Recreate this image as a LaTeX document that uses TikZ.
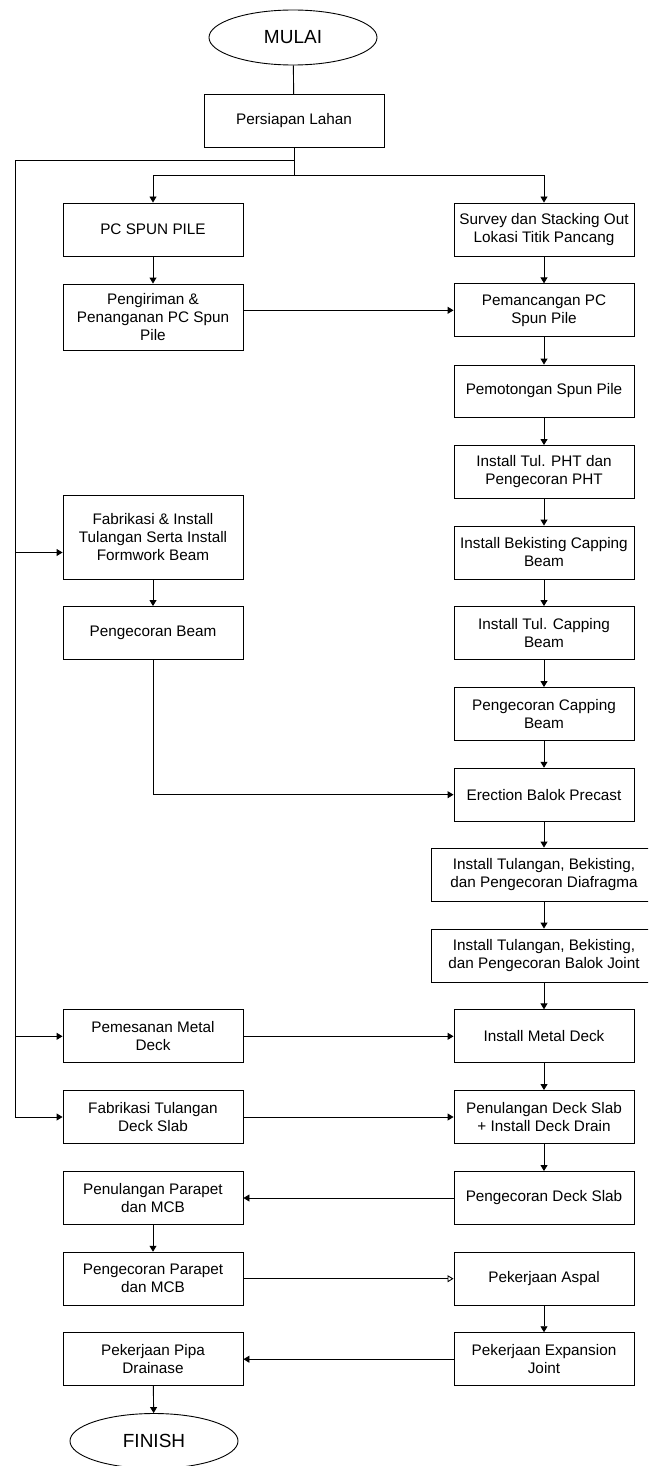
\documentclass[tikz,border=0pt]{standalone}
\usepackage{fontspec}
\setmainfont{Liberation Sans}
\usetikzlibrary{arrows.meta,shapes.geometric}

\tikzset{
    box/.style={draw, rectangle, minimum width=180pt, minimum height=53pt, inner sep=2pt, align=center, font=\fontsize{15.3}{18}\selectfont},
    oval/.style={draw, ellipse, minimum width=168pt, minimum height=55pt, inner sep=0pt, font=\fontsize{19}{22}\selectfont},
    arr/.style={-{Triangle[length=6pt, width=7pt]}},
    arropen/.style={-{Triangle[open, length=6pt, width=7pt]}}
}

\begin{document}
\begin{tikzpicture}[x=1pt, y=-1pt, line width=0.9pt]
    \path[use as bounding box, clip] (0, 0) rectangle (648, 1466);
    \node[oval] (mulai) at(293, 37.5) {MULAI};
    \node[box] (lahan) at(294, 120.8) {Persiapan Lahan};
    \node[box] (spun) at(153, 229.5) {PC SPUN PILE};
    \node[box] (survey) at(544, 229.5) {Survey dan Stacking Out\\Lokasi Titik Pancang};
    \node[box, minimum height=66pt] (kirim) at(153, 317) {Pengiriman \&\\Penanganan PC Spun\\Pile};
    \node[box] (pancang) at(544, 310.3) {Pemancangan PC\\Spun Pile};
    \node[box, minimum height=52pt] (potong) at(544, 391) {Pemotongan Spun Pile};
    \node[box] (pht) at(544, 472) {Install Tul. PHT dan\\Pengecoran PHT};
    \node[box, minimum height=84pt] (fabbeam) at(153, 537) {Fabrikasi \& Install\\Tulangan Serta Install\\Formwork Beam};
    \node[box] (bekisting) at(544, 552.5) {Install Bekisting Capping\\Beam};
    \node[box] (corbeam) at(153, 633) {Pengecoran Beam};
    \node[box] (tulcap) at(544, 633) {Install Tul. Capping\\Beam};
    \node[box] (corcap) at(544, 714) {Pengecoran Capping\\Beam};
    \node[box] (erection) at(544, 794.7) {Erection Balok Precast};
    \node[box, minimum width=226pt] (diafragma) at(544, 874.5) {Install Tulangan, Bekisting,\\dan Pengecoran Diafragma};
    \node[box, minimum width=226pt] (joint) at(544, 955.5) {Install Tulangan, Bekisting,\\dan Pengecoran Balok Joint};
    \node[box] (pesan) at(153, 1036.3) {Pemesanan Metal\\Deck};
    \node[box] (metaldeck) at(544, 1036.3) {Install Metal Deck};
    \node[box] (decktul) at(153, 1117) {Fabrikasi Tulangan\\Deck Slab};
    \node[box] (penuldeck) at(544, 1117) {Penulangan Deck Slab\\+ Install Deck Drain};
    \node[box] (parapet) at(153, 1198) {Penulangan Parapet\\dan MCB};
    \node[box] (cordeck) at(544, 1198) {Pengecoran Deck Slab};
    \node[box] (corparapet) at(153, 1278.7) {Pengecoran Parapet\\dan MCB};
    \node[box] (aspal) at(544, 1278.7) {Pekerjaan Aspal};
    \node[box] (pipa) at(153, 1359.2) {Pekerjaan Pipa\\Drainase};
    \node[box] (expansion) at(544, 1359.2) {Pekerjaan Expansion\\Joint};
    \node[oval] (finish) at(154, 1441) {FINISH};
    \coordinate (split) at(294, 175);
    \coordinate (left) at(15, 160.7);
    \draw (mulai) -- (lahan);
    \draw (lahan) -- (split);
    \draw[arr] (split) -| (spun);
    \draw[arr] (split) -| (survey);
    \draw (lahan.south |- left) -- (left) -- (left |- decktul);
    \draw[arr] (left |- bekisting) -- (fabbeam.west |- bekisting);
    \draw[arr] (left |- pesan) -- (pesan);
    \draw[arr] (left |- decktul) -- (decktul);
    \draw[arr] (spun) -- (kirim);
    \draw[arr] (kirim.east |- pancang) -- (pancang);
    \draw[arr] (survey) -- (pancang);
    \draw[arr] (pancang) -- (potong);
    \draw[arr] (potong) -- (pht);
    \draw[arr] (pht) -- (bekisting);
    \draw[arr] (bekisting) -- (tulcap);
    \draw[arr] (tulcap) -- (corcap);
    \draw[arr] (corcap) -- (erection);
    \draw[arr] (fabbeam) -- (corbeam);
    \draw[arr] (corbeam) |- (erection);
    \draw[arr] (erection) -- (diafragma);
    \draw[arr] (diafragma) -- (joint);
    \draw[arr] (joint) -- (metaldeck);
    \draw[arr] (pesan) -- (metaldeck);
    \draw[arr] (metaldeck) -- (penuldeck);
    \draw[arr] (decktul) -- (penuldeck);
    \draw[arr] (penuldeck) -- (cordeck);
    \draw[arr] (cordeck) -- (parapet);
    \draw[arr] (parapet) -- (corparapet);
    \draw[arropen] (corparapet) -- (aspal);
    \draw[arr] (aspal) -- (expansion);
    \draw[arr] (expansion) -- (pipa);
    \draw[arr] (pipa) -- (finish);
\end{tikzpicture}
\end{document}
